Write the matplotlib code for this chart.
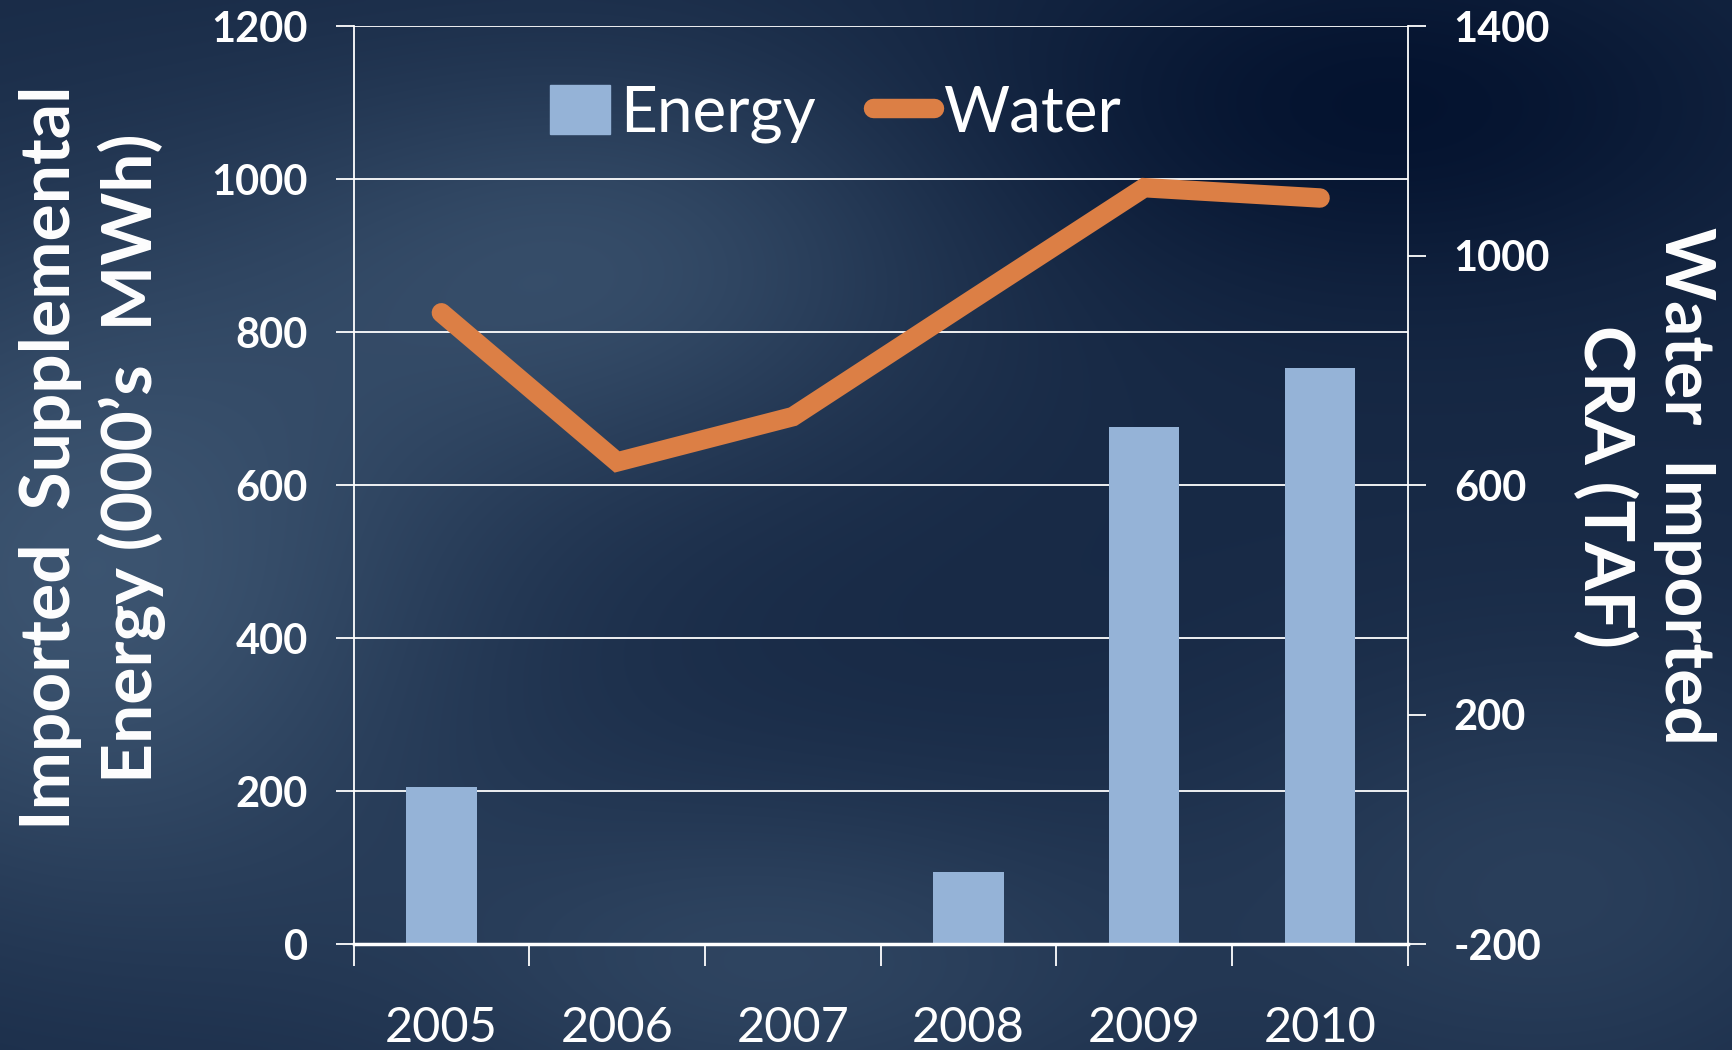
#!/usr/bin/env python3
# -*- coding: utf-8 -*-
import numpy as np
import matplotlib
matplotlib.use('Agg')
import matplotlib.pyplot as plt
from matplotlib import ticker
from matplotlib.patches import Patch
from matplotlib.lines import Line2D

#==============================================================================#
years = ['2005', '2006', '2007', '2008', '2009', '2010']
energy = [206, 0, 0, 95, 677, 754]          # 000's MWh (left axis)
water = [901, 641, 720, 920, 1119, 1101]    # TAF (right axis)
left_ticks = [0, 200, 400, 600, 800, 1000, 1200]
right_ticks = [-200, 200, 600, 1000, 1400]

bar_c = '#95b3d7'
line_c = '#dc7f45'
#==============================================================================#
plt.rcParams['font.family'] = ['Lato', 'DejaVu Sans']
plt.rcParams['axes.unicode_minus'] = False

fig = plt.figure(figsize=(17.32, 10.5), dpi=100)

# background - dark blue slide with lighter patches
bg = fig.add_axes([0, 0, 1, 1], zorder=-10)
yy, xx = np.mgrid[0:1:300j, 0:1:500j]
base = np.array([0.09, 0.16, 0.27])
glow = np.array([0.27, 0.37, 0.48])
w = (0.8 * np.exp(-((xx - 0.05) ** 2 / 0.05 + (yy - 0.55) ** 2 / 0.12))
     + 0.6 * np.exp(-((xx - 0.35) ** 2 / 0.04 + (yy - 0.25) ** 2 / 0.04))
     + 0.5 * np.exp(-((xx - 0.45) ** 2 / 0.05 + (yy - 0.92) ** 2 / 0.03))
     + 0.4 * np.exp(-((xx - 0.9) ** 2 / 0.04 + (yy - 0.85) ** 2 / 0.05))
     - 0.4 * np.exp(-((xx - 0.8) ** 2 / 0.05 + (yy - 0.1) ** 2 / 0.03)))
w = np.clip(w, -0.45, 1.0)
img = base[None, None, :] + w[:, :, None] * (glow - base)[None, None, :]
img = np.clip(img, 0, 1)
bg.imshow(img, aspect='auto', extent=[0, 1, 1, 0], interpolation='bicubic')
bg.axis('off')

ax = fig.add_axes([0.2041, 0.1005, 0.6088, 0.8743])
ax.set_facecolor('none')
x = np.arange(len(years))
ax.bar(x, energy, width=0.4, color=bar_c, zorder=2)
ax.set_xlim(-0.5, len(years) - 0.5)
ax.set_ylim(0, 1200)
ax.set_yticks(left_ticks)
ax.yaxis.grid(True, color='white', lw=1.3, zorder=0)
ax.set_axisbelow(True)
ax.xaxis.set_major_locator(ticker.FixedLocator(np.arange(-0.5, len(years), 1)))
ax.xaxis.set_major_formatter(ticker.NullFormatter())
ax.xaxis.set_minor_locator(ticker.FixedLocator(x))
ax.xaxis.set_minor_formatter(ticker.FixedFormatter(years))
ax.tick_params(axis='x', which='major', length=16, width=1.3, color='white')
ax.tick_params(axis='x', which='minor', length=0, pad=44, labelsize=35,
               labelcolor='white')
ax.tick_params(axis='y', length=13, width=1.3, color='white', pad=20,
               labelsize=30, labelcolor='white')
for t in ax.get_yticklabels():
    t.set_fontweight('bold')
for s in ['top', 'right']:
    ax.spines[s].set_visible(False)
ax.spines['left'].set_color('white')
ax.spines['left'].set_linewidth(1.3)
ax.spines['bottom'].set_color('white')
ax.spines['bottom'].set_linewidth(2.5)

ax2 = ax.twinx()
ax2.plot(x, water, color=line_c, lw=14, solid_capstyle='round',
         solid_joinstyle='miter', zorder=3)
ax2.set_ylim(-200, 1400)
ax2.set_yticks(right_ticks)
ax2.tick_params(axis='y', length=13, width=1.3, color='white', pad=20,
                labelsize=30, labelcolor='white')
for t in ax2.get_yticklabels():
    t.set_fontweight('bold')
for s in ['top', 'left', 'bottom']:
    ax2.spines[s].set_visible(False)
ax2.spines['right'].set_color('white')
ax2.spines['right'].set_linewidth(1.3)

# axis titles
fig.text(0.0535, 0.564, 'Imported  Supplemental\nEnergy (000\u2019s  MWh)',
         rotation=90, ha='center', va='center', fontsize=50,
         fontweight='bold', color='white', linespacing=1.3)
fig.text(0.949, 0.537, 'Water  Imported\nCRA (TAF)',
         rotation=-90, ha='center', va='center', fontsize=50,
         fontweight='bold', color='white', linespacing=1.3)

handles = [Patch(color=bar_c, label='Energy'),
           Line2D([0], [0], color=line_c, lw=14, solid_capstyle='round',
                  label='Water')]
ax.legend(handles=handles, loc='center', bbox_to_anchor=(0.457, 0.905),
          ncol=2, frameon=False, fontsize=46, labelcolor='white',
          handlelength=0.95, handleheight=0.8, handletextpad=0.15,
          columnspacing=0.9)

fig.savefig('out.png', dpi=100)
